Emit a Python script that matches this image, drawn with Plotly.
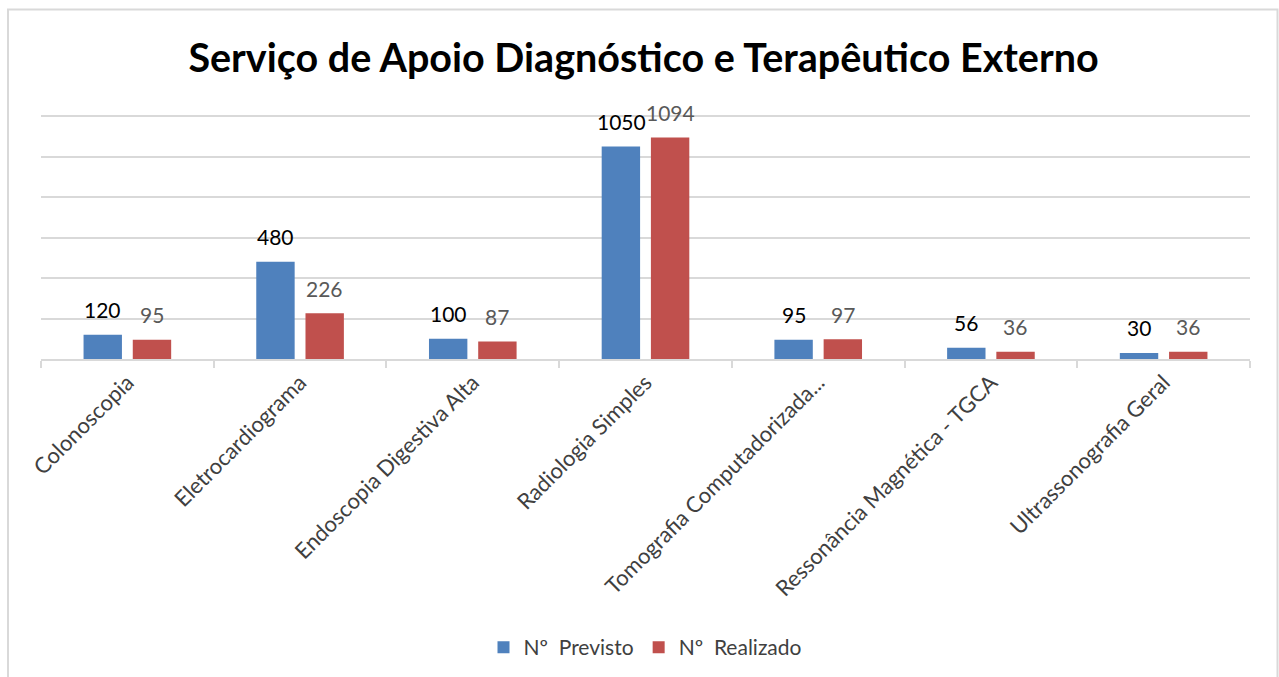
import plotly.graph_objects as go

categories = [
    "Colonoscopia",
    "Eletrocardiograma",
    "Endoscopia Digestiva Alta",
    "Radiologia Simples",
    "Tomografia Computadorizada...",
    "Ressonância Magnética - TGCA",
    "Ultrassonografia Geral",
]
previsto = [120, 480, 100, 1050, 95, 56, 30]
realizado = [95, 226, 87, 1094, 97, 36, 36]
series_names = ["Nº\u00a0 Previsto", "Nº\u00a0 Realizado"]
grid_values = [200, 400, 600, 800, 1000, 1200]

BLUE = "#4F81BD"
RED = "#C0504D"
GRID = "#D9D9D9"
FONT = "Lato"

fig = go.Figure()
fig.add_trace(go.Bar(x=categories, y=previsto, name=series_names[0],
                     marker=dict(color=BLUE, line=dict(width=0))))
fig.add_trace(go.Bar(x=categories, y=realizado, name=series_names[1],
                     marker=dict(color=RED, line=dict(width=0))))

annotations = []
for c, v in zip(categories, previsto):
    annotations.append(dict(x=c, y=v, xref="x", yref="y", text=str(v), showarrow=False,
                            xshift=-24.5, yshift=25, yanchor="middle",
                            font=dict(family=FONT, size=21, color="#000000")))
for c, v in zip(categories, realizado):
    annotations.append(dict(x=c, y=v, xref="x", yref="y", text=str(v), showarrow=False,
                            xshift=24.5, yshift=25, yanchor="middle",
                            font=dict(family=FONT, size=21, color="#595959")))

W, H = 1279, 677
L, R, B = 41, 29, 318
YMAX = 1215
ph = (H - B - 115.7) * YMAX / 1200
T = H - B - ph
pw = W - L - R

def px_x(p):
    return (p - L) / pw

def px_y(p):
    return (H - B - p) / ph

fig.update_layout(
    width=W, height=H,
    margin=dict(l=L, r=R, t=T, b=B, autoexpand=False),
    paper_bgcolor="white", plot_bgcolor="white",
    barmode="group", bargap=0.43, bargroupgap=0.22,
    title=dict(text="<b>Serviço de Apoio Diagnóstico e Terapêutico Externo</b>",
               x=643.5 / W, xanchor="center", y=1 - 58 / H, yanchor="middle",
               font=dict(family=FONT, size=39.5, color="#000000")),
    font=dict(family=FONT, size=21, color="#404040"),
    showlegend=True,
    legend=dict(orientation="h", x=0.5, xanchor="center", y=px_y(648), yanchor="middle",
                font=dict(family=FONT, size=21, color="#404040"),
                itemsizing="constant"),
    annotations=annotations,
    shapes=[dict(type="rect", xref="paper", yref="paper",
                 x0=px_x(8), x1=px_x(1277.5), y0=px_y(690), y1=px_y(9),
                 line=dict(color=GRID, width=2), fillcolor="rgba(0,0,0,0)", layer="below")],
    xaxis=dict(showline=True, linecolor=GRID, linewidth=2,
               ticks="outside", tickson="boundaries", ticklen=7, tickcolor=GRID, tickwidth=2,
               tickangle=-45, showgrid=False,
               tickfont=dict(family=FONT, size=22, color="#404040")),
    yaxis=dict(range=[0, YMAX], tickvals=grid_values,
               showgrid=True, gridcolor=GRID, gridwidth=2,
               showticklabels=False, zeroline=False, ticks=""),
)

fig.write_html("out.html", config={"displayModeBar": False},
               post_script="document.body.style.margin='0px';document.body.style.overflow='hidden';")
